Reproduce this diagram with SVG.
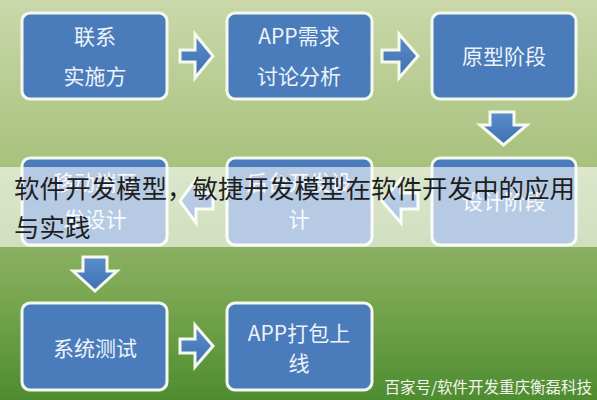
<svg xmlns="http://www.w3.org/2000/svg" width="597" height="400" viewBox="0 0 597 400">
<defs>
<linearGradient id="bg" x1="0" y1="0" x2="0" y2="1">
<stop offset="0" stop-color="#cad8aa"/>
<stop offset="0.4" stop-color="#a9c27e"/>
<stop offset="0.75" stop-color="#78a650"/>
<stop offset="1" stop-color="#4e8c30"/>
</linearGradient>
<linearGradient id="ar" x1="0" y1="0" x2="0" y2="1">
<stop offset="0" stop-color="#5b8ccb"/>
<stop offset="1" stop-color="#3e6fb0"/>
</linearGradient>
<style>
.box{fill:#4a7cbc;stroke:#f4f8ee;stroke-width:3}
.t{font-family:"Noto Sans CJK SC","Liberation Sans",sans-serif;font-size:21px;fill:#eef3fa;text-anchor:middle;dominant-baseline:central}
.arrow{fill:url(#ar);stroke:#f6f9ee;stroke-width:3;stroke-linejoin:miter}
.ov{font-family:"Noto Sans CJK SC",sans-serif;font-size:25.5px;fill:#1e1e1e}
.wm{font-family:"Noto Sans CJK SC",sans-serif;font-size:15.5px;fill:#f2f5ee;text-anchor:end}
</style>
</defs>
<rect width="597" height="400" fill="url(#bg)"/>
<g id="connectors">
<path class="arrow" d="M180,50 H195 V34 L213,56 L195,78 V62 H180 Z"/>
<path class="arrow" d="M382,50 H399 V34 L418,56 L399,78 V62 H382 Z"/>
<path class="arrow" d="M490,112 H514 V125 H527 L503.5,145 L480,125 H490 Z"/>
<path class="arrow" d="M418,193 H401 V179 L382,201 L401,223 V209 H418 Z"/>
<path class="arrow" d="M213,193 H196 V179 L180,201 L196,223 V209 H213 Z"/>
<path class="arrow" d="M83,257 H107 V271 H117 L95,291 L73,271 H83 Z"/>
<path class="arrow" d="M180,339 H195 V325 L213,346 L195,367 V353 H180 Z"/>
</g>
<g id="n1"><rect class="box" x="22" y="13" width="145" height="86" rx="8"/><text class="t" x="95" y="35">联系</text><text class="t" x="95" y="75">实施方</text></g>
<g id="n2"><rect class="box" x="227" y="13" width="145" height="86" rx="8"/><text class="t" x="299" y="35">APP需求</text><text class="t" x="299" y="75">讨论分析</text></g>
<g id="n3"><rect class="box" x="432" y="13" width="144" height="86" rx="8"/><text class="t" x="504" y="55">原型阶段</text></g>
<g id="n4"><rect class="box" x="432" y="158" width="144" height="87" rx="8"/><text class="t" x="504" y="200">设计阶段</text></g>
<g id="n5"><rect class="box" x="227" y="158" width="145" height="87" rx="8"/><text class="t" x="299" y="181">后台开发设</text><text class="t" x="299" y="218">计</text></g>
<g id="n6"><rect class="box" x="22" y="158" width="145" height="87" rx="8"/><text class="t" x="95" y="181">移动端开</text><text class="t" x="95" y="218">发设计</text></g>
<g id="n7"><rect class="box" x="22" y="303" width="145" height="87" rx="8"/><text class="t" x="95" y="347">系统测试</text></g>
<g id="n8"><rect class="box" x="227" y="303" width="145" height="87" rx="8"/><text class="t" x="299" y="332">APP打包上</text><text class="t" x="299" y="362">线</text></g>
<rect x="0" y="167" width="597" height="80" fill="#ffffff" fill-opacity="0.6"/>
<text class="ov" x="14" y="198">软件开发模型，敏捷开发模型在软件开发中的应用</text>
<text class="ov" x="14" y="237">与实践</text>
<text class="wm" x="592" y="393">百家号/软件开发重庆衡磊科技</text>
</svg>
